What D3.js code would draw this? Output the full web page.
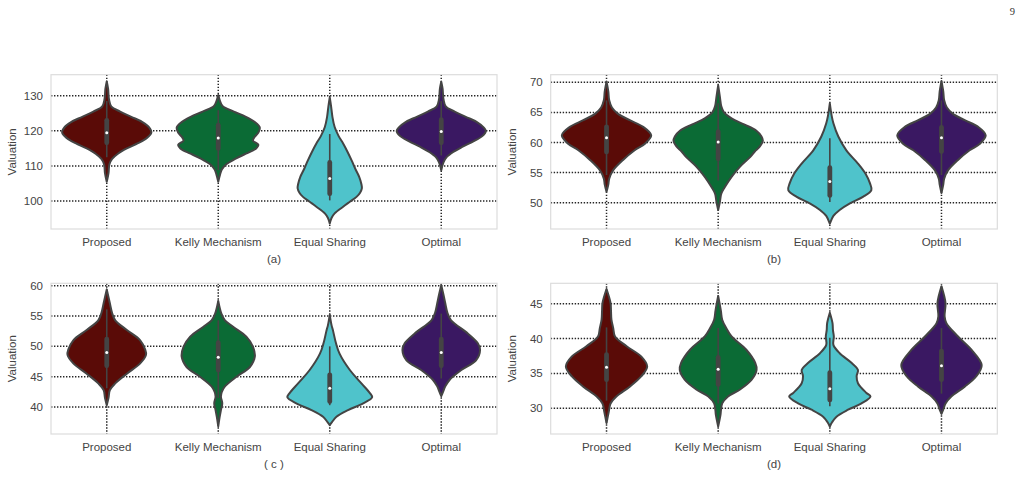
<!DOCTYPE html>
<html><head><meta charset="utf-8">
<script src="https://cdn.jsdelivr.net/npm/d3@7"></script>
<style>body{margin:0;background:#fff}svg{display:block}</style>
</head><body>
<svg id="c" width="1022" height="477"></svg>
<script>
// ---------- data ----------
const categories = ["Proposed", "Kelly Mechanism", "Equal Sharing", "Optimal"];
const colors = ["#5a0b07", "#0b6b35", "#4fc3cb", "#3a1862"];
const panelLabels = ["(a)", "(b)", "( c )", "(d)"];
const yDomains = [[92.05, 136.0], [45.63, 71.26], [35.55, 60.4], [26.32, 47.92]];
const yTicks = [[100, 110, 120, 130], [50, 55, 60, 65, 70], [40, 45, 50, 55, 60], [30, 35, 40, 45]];

// violin profiles: [value, relative half width]
const profA_prop = [[134.1,0],[132,0.03],[129,0.05],[127,0.1],[125.5,0.3],[124,0.55],[122.5,0.8],[121,0.95],[119.5,1.0],[118,0.9],[116.5,0.7],[115,0.45],[113.5,0.25],[112,0.12],[110.5,0.06],[108,0.04],[105.5,0]];
const profA_kelly = [[130.2,0],[128.5,0.04],[127,0.1],[125.5,0.35],[124,0.62],[122.5,0.82],[121,0.93],[119.5,0.9],[118,0.8],[117.2,0.78],[116,0.9],[115,0.85],[113.5,0.62],[112,0.38],[110.5,0.18],[109,0.08],[107.5,0.04],[105.5,0]];
const profA_equal = [[129.5,0],[127,0.03],[124,0.06],[121.1,0.11],[118.5,0.2],[116.4,0.3],[114,0.4],[111.6,0.49],[109,0.58],[106.9,0.66],[104.8,0.71],[103.6,0.72],[102.4,0.68],[101.2,0.6],[99.8,0.45],[98.4,0.3],[96.5,0.11],[95.2,0.04],[93.6,0]];
const profA_opt = [[134,0],[132,0.03],[129,0.05],[127,0.1],[125.5,0.3],[124,0.55],[122.5,0.8],[121,0.95],[120,1.0],[118.5,0.92],[117,0.72],[115.5,0.48],[114,0.27],[112.5,0.12],[111,0.05],[108.8,0]];

const profB_prop = [[70.1,0],[68.5,0.04],[67,0.06],[65.8,0.12],[64.8,0.25],[63.7,0.52],[62.6,0.82],[61.2,1.0],[59.8,0.86],[58.7,0.63],[57.1,0.37],[55.4,0.15],[54,0.06],[53,0.04],[51.8,0]];
const profB_kelly = [[69.5,0],[67.5,0.04],[66,0.07],[65,0.13],[64,0.3],[63,0.58],[62,0.85],[61,0.97],[60.3,1.0],[59.3,0.93],[58.5,0.82],[57.6,0.72],[56,0.49],[54.3,0.3],[52.6,0.15],[51.5,0.07],[50.2,0.04],[48.8,0]];
const profB_equal = [[66.5,0],[64.5,0.04],[63.2,0.08],[61,0.19],[58.7,0.37],[56.5,0.63],[54.8,0.8],[53.2,0.9],[52.1,0.93],[51,0.75],[49.9,0.45],[48.8,0.22],[47.8,0.08],[46.5,0]];
const profB_opt = [[70.2,0],[68.5,0.04],[67,0.06],[65.8,0.12],[64.8,0.25],[63.7,0.52],[62.6,0.82],[61.2,0.99],[59.8,0.86],[58.7,0.63],[57.1,0.37],[55.4,0.15],[54,0.06],[53,0.04],[51.6,0]];

const profC_prop = [[59.4,0],[57.1,0.07],[55.5,0.12],[54.3,0.19],[52.7,0.45],[51,0.75],[49.5,0.86],[48.6,0.88],[47.2,0.75],[45.5,0.45],[43.9,0.19],[42.8,0.07],[41.5,0.04],[40.3,0]];
const profC_kelly = [[57.5,0],[55.4,0.07],[54.3,0.15],[53.2,0.34],[51.6,0.63],[49.9,0.78],[48.3,0.82],[46.6,0.71],[45,0.41],[43.4,0.15],[42.5,0.08],[41.7,0.06],[40.6,0.09],[39.5,0.06],[38.3,0.03],[36.8,0]];
const profC_equal = [[55.2,0],[53.5,0.04],[52.7,0.07],[50.5,0.14],[48.8,0.22],[46.1,0.45],[43.9,0.71],[42.3,0.9],[41.6,0.95],[40.6,0.75],[39.5,0.41],[38.4,0.15],[37.5,0.05],[37,0]];
const profC_opt = [[60.1,0],[58.5,0.05],[57.1,0.09],[55.5,0.14],[54.3,0.22],[52.1,0.6],[50.5,0.82],[49.4,0.87],[47.7,0.78],[46.1,0.45],[44.5,0.19],[43.4,0.09],[42.5,0.04],[41.8,0]];

const profD_prop = [[47.1,0],[45.1,0.09],[44,0.1],[42.7,0.11],[41.5,0.15],[40.3,0.19],[38.9,0.45],[37.4,0.78],[36,0.91],[34.6,0.78],[33.1,0.52],[31.7,0.22],[30.7,0.09],[29.5,0.05],[27.9,0]];
const profD_kelly = [[46.1,0],[44,0.06],[42.7,0.09],[41.5,0.18],[40.3,0.3],[38.4,0.63],[36.5,0.83],[35.5,0.86],[34.1,0.75],[32.7,0.49],[31.7,0.22],[30.7,0.09],[29,0.05],[27.4,0]];
const profD_equal = [[43.7,0],[42.2,0.06],[41.2,0.07],[40.3,0.09],[39.1,0.08],[37.9,0.22],[36.5,0.49],[35.5,0.63],[34.6,0.6],[33.6,0.63],[32.2,0.82],[31.7,0.91],[30.7,0.71],[29.8,0.41],[28.8,0.15],[28,0.05],[27.4,0]];
const profD_opt = [[47.5,0],[45.1,0.09],[43.2,0.07],[42.2,0.11],[40.3,0.37],[38.4,0.67],[36.2,0.9],[34.6,0.78],[33.1,0.52],[31.7,0.22],[30.7,0.09],[29.8,0.04],[29.2,0]];

// box stats: [whiskerLow, q1, median, q3, whiskerHigh]
const boxA = [[112.5,116.6,119.5,123.0,128.5],[108.8,115.0,118.0,121.6,125.9],[100.2,102.1,106.4,111.0,119.1],[113.0,116.6,119.8,123.2,128.5]];
const boxB = [[54.6,58.4,60.8,62.6,67.0],[53.7,57.3,60.1,61.8,66.5],[50.1,51.2,53.5,55.8,60.7],[54.6,58.5,60.8,62.5,67.0]];
const boxC = [[43.1,46.8,49.0,51.2,56.1],[41.5,46.1,48.2,50.6,54.3],[40.3,40.9,43.1,45.3,50.0],[44.7,46.8,49.0,51.2,55.4]];
const boxD = [[31.1,34.1,35.9,37.7,41.6],[30.7,33.4,35.6,37.3,41.5],[30.3,31.2,32.8,35.1,40.1],[32.1,34.1,36.1,38.2,41.5]];

const profiles = [
  [profA_prop, profA_kelly, profA_equal, profA_opt],
  [profB_prop, profB_kelly, profB_equal, profB_opt],
  [profC_prop, profC_kelly, profC_equal, profC_opt],
  [profD_prop, profD_kelly, profD_equal, profD_opt]
];
const boxes = [boxA, boxB, boxC, boxD];

// ---------- layout ----------
const svg = d3.select("#c");
const panels = [
  {x0: 51, x1: 497, y0: 74.7, y1: 229},
  {x0: 550.7, x1: 997.3, y0: 74.7, y1: 229},
  {x0: 51, x1: 497, y0: 283.3, y1: 434},
  {x0: 550.7, x1: 997.3, y0: 283.3, y1: 434}
];
const font = "'Liberation Sans', Arial, sans-serif";
const textCol = "#444";
const lineCol = "#444";

svg.append("text").attr("x", 1015).attr("y", 15).attr("text-anchor", "end")
  .attr("font-family", "'Liberation Serif', 'DejaVu Serif', serif").attr("font-size", 10.5)
  .attr("fill", "#333").text("9");

panels.forEach((p, i) => {
  const g = svg.append("g");
  const x = d3.scaleBand().domain(categories).range([p.x0, p.x1]).padding(0);
  const y = d3.scaleLinear().domain(yDomains[i]).range([p.y1, p.y0]);
  const bw = x.bandwidth();
  const maxHalf = bw * 0.4;

  // grid
  g.selectAll(".hg").data(yTicks[i]).enter().append("line")
    .attr("x1", p.x0).attr("x2", p.x1).attr("y1", d => y(d)).attr("y2", d => y(d))
    .attr("stroke", "#262626").attr("stroke-width", 1.5).attr("stroke-dasharray", "1.4,1.6");
  g.selectAll(".vg").data(categories).enter().append("line")
    .attr("x1", d => x(d) + bw / 2).attr("x2", d => x(d) + bw / 2).attr("y1", p.y0).attr("y2", p.y1)
    .attr("stroke", "#262626").attr("stroke-width", 1.5).attr("stroke-dasharray", "1.4,1.6");

  // frame
  g.append("rect").attr("x", p.x0).attr("y", p.y0).attr("width", p.x1 - p.x0).attr("height", p.y1 - p.y0)
    .attr("fill", "none").attr("stroke", "#dcdcdc").attr("stroke-width", 1.2);

  // violins
  categories.forEach((cat, j) => {
    const cx = x(cat) + bw / 2;
    const prof = profiles[i][j];
    const right = prof.map(d => [cx + d[1] * maxHalf, y(d[0])]);
    const left = prof.slice().reverse().map(d => [cx - d[1] * maxHalf, y(d[0])]);
    const line = d3.line().curve(d3.curveCatmullRom.alpha(0.5));
    const path = line(right) + line(left).replace(/^M/, "L") + "Z";
    g.append("path").attr("d", path).attr("fill", colors[j])
      .attr("stroke", lineCol).attr("stroke-width", 2).attr("stroke-linejoin", "round");

    const b = boxes[i][j];
    g.append("line").attr("x1", cx).attr("x2", cx).attr("y1", y(b[0])).attr("y2", y(b[4]))
      .attr("stroke", lineCol).attr("stroke-width", 1.6);
    g.append("line").attr("x1", cx).attr("x2", cx).attr("y1", y(b[1])).attr("y2", y(b[3]))
      .attr("stroke", lineCol).attr("stroke-width", 4.8).attr("stroke-linecap", "round");
    g.append("circle").attr("cx", cx).attr("cy", y(b[2])).attr("r", 1.5).attr("fill", "#fff");
  });

  // y tick labels
  g.selectAll(".yt").data(yTicks[i]).enter().append("text")
    .attr("x", p.x0 - 8).attr("y", d => y(d)).attr("dy", "0.35em").attr("text-anchor", "end")
    .attr("font-family", font).attr("font-size", 11.5).attr("fill", textCol).text(d => d);
  // x labels
  g.selectAll(".xt").data(categories).enter().append("text")
    .attr("x", d => x(d) + bw / 2).attr("y", p.y1 + 12.7).attr("dy", "0.35em").attr("text-anchor", "middle")
    .attr("font-family", font).attr("font-size", 11.5).attr("fill", textCol).text(d => d);
  // panel label
  g.append("text").attr("x", (p.x0 + p.x1) / 2).attr("y", p.y1 + 30.3).attr("dy", "0.35em")
    .attr("text-anchor", "middle").attr("font-family", font).attr("font-size", 11.5).attr("fill", textCol)
    .text(panelLabels[i]);
  // y axis title
  const ym = (p.y0 + p.y1) / 2;
  g.append("text").attr("transform", `translate(${p.x0 - 39},${ym}) rotate(-90)`)
    .attr("dy", "0.35em").attr("text-anchor", "middle").attr("font-family", font)
    .attr("font-size", 11.5).attr("fill", textCol).text("Valuation");
});
</script>
</body></html>
